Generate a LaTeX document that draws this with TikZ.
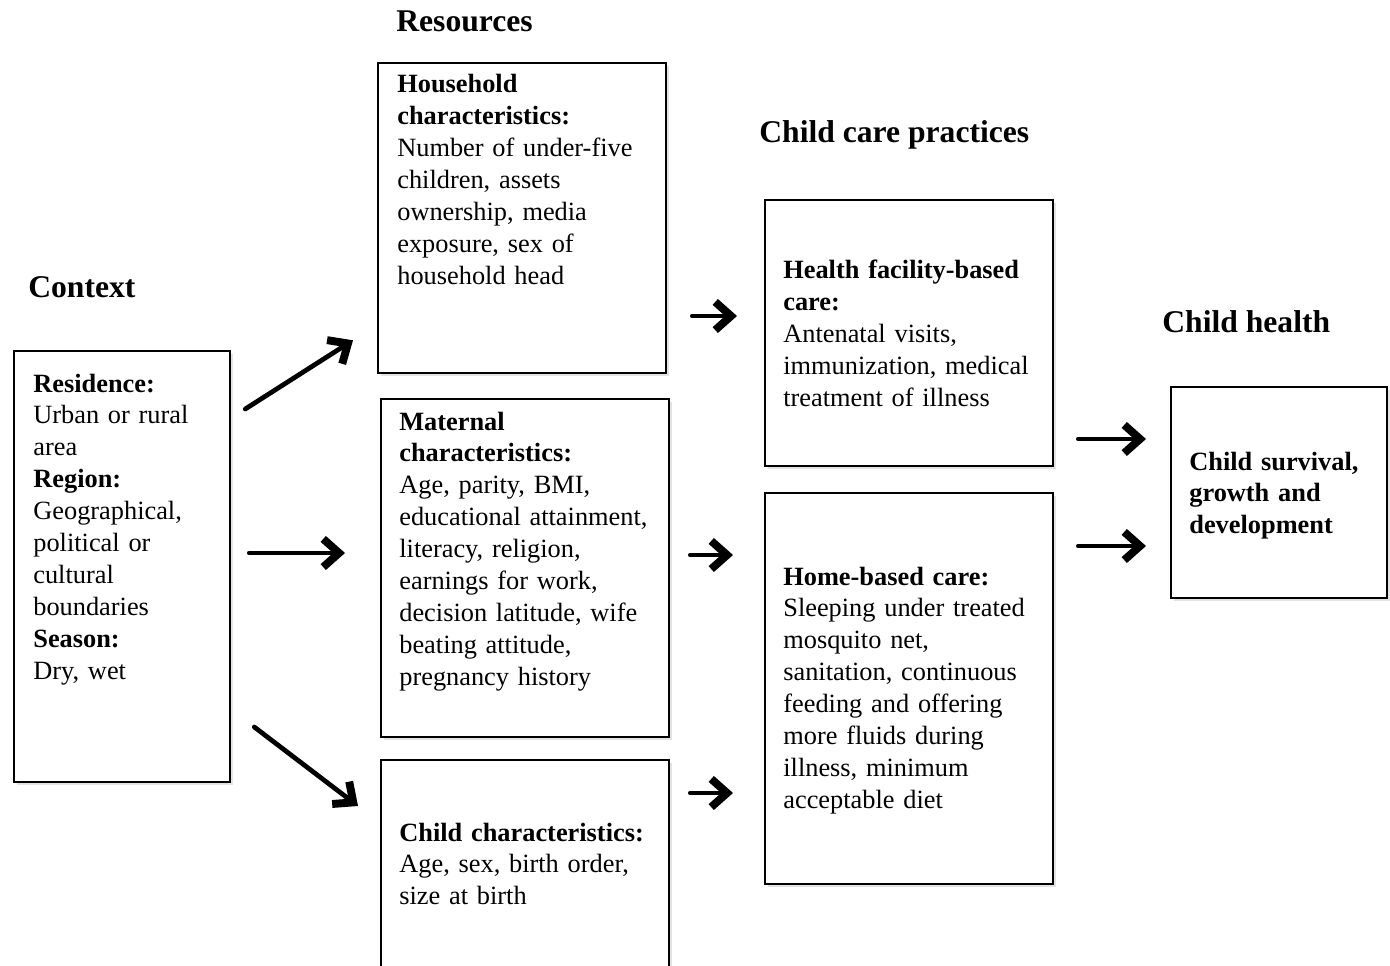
\documentclass[tikz,border=0pt]{standalone}
\usepackage{fontspec}
\setmainfont{Liberation Serif}
\usetikzlibrary{arrows.meta,calc,shadows}

\begin{document}
\begin{tikzpicture}[x=0.02cm, y=-0.02cm,
    box/.style 2 args={draw=black, line width=1.3pt, fill=white, anchor=north west, inner sep=0pt,
      minimum width=#1*0.02cm, minimum height=#2*0.02cm,
      drop shadow={shadow xshift=1.5pt, shadow yshift=-1.5pt, opacity=0.22}},
    txt/.style={anchor=base west, align=left, text width=6cm, inner sep=0pt, font=\fontsize{15}{18.2}\selectfont},
    head/.style={anchor=base west, inner sep=0pt, font=\fontsize{18}{22}\selectfont\bfseries},
    arr/.style={-{Straight Barb[length=9pt,width=16pt,line width=4.5pt]}, line width=2.7pt, line cap=round}]
        \useasboundingbox (0,0) rectangle (1390,966);

        % Column headings
        \node[head] (hctx) at (28,297) {Context};
        \node[head] (hres) at (396,32) {Resources};
        \node[head] (hcare) at (759,143) {Child care practices};
        \node[head] (hhealth) at (1162,333) {Child health};

        % Context
        \node[box={216}{431}] (ctx) at (13,350) {};
        \node[txt] (ctxtext) at (33,392) {\textbf{Residence:}\\Urban or rural\\area\\\textbf{Region:}\\Geographical,\\political or\\cultural\\boundaries\\\textbf{Season:}\\Dry, wet};

        % Resources
        \node[box={288}{310}] (house) at (377,62) {};
        \node[txt] (housetext) at (397,93) {\textbf{Household}\\\textbf{characteristics:}\\Number of under-five\\children, assets\\ownership, media\\exposure, sex of\\household head};

        \node[box={288}{338}] (mat) at (380,398) {};
        \node[txt] (mattext) at (399,430) {\textbf{Maternal}\\\textbf{characteristics:}\\Age, parity, BMI,\\educational attainment,\\literacy, religion,\\earnings for work,\\decision latitude, wife\\beating attitude,\\pregnancy history};

        \node[box={288}{240}] (child) at (380,759) {};
        \node[txt] (childtext) at (399,841) {\textbf{Child characteristics:}\\Age, sex, birth order,\\size at birth};

        % Child care practices
        \node[box={288}{266}] (fac) at (764,199) {};
        \node[txt] (factext) at (783,279) {\textbf{Health facility-based}\\\textbf{care:}\\Antenatal visits,\\immunization, medical\\treatment of illness};

        \node[box={288}{391}] (home) at (764,492) {};
        \node[txt] (hometext) at (783,585) {\textbf{Home-based care:}\\Sleeping under treated\\mosquito net,\\sanitation, continuous\\feeding and offering\\more fluids during\\illness, minimum\\acceptable diet};

        % Child health
        \node[box={216}{211}] (surv) at (1170,386) {};
        \node[txt, font=\fontsize{15}{18.2}\selectfont\bfseries] (survtext) at (1189,470) {Child survival,\\growth and\\development};

        % Arrows
        \draw[arr] ($(ctx.north east)+(14,59)$) -- ($(house.south west)+(-24,-34)$);
        \draw[arr] ($(ctx.north east)+(18,203)$) -- ($(mat.north west)+(-35,155)$);
        \draw[arr] ($(ctx.north east)+(23,377)$) -- ($(child.north west)+(-22,47)$);
        \draw[arr] ($(house.north east)+(25,254)$) -- ($(fac.north west)+(-27,117)$);
        \draw[arr] ($(mat.north east)+(20,157)$) -- ($(home.north west)+(-31,63)$);
        \draw[arr] ($(child.north east)+(20,34)$) -- ($(home.north west)+(-31,301)$);
        \draw[arr] ($(fac.north east)+(24,240)$) -- ($(surv.north west)+(-24,53)$);
        \draw[arr] ($(home.north east)+(24,54)$) -- ($(surv.north west)+(-24,160)$);
    \end{tikzpicture}
\end{document}
